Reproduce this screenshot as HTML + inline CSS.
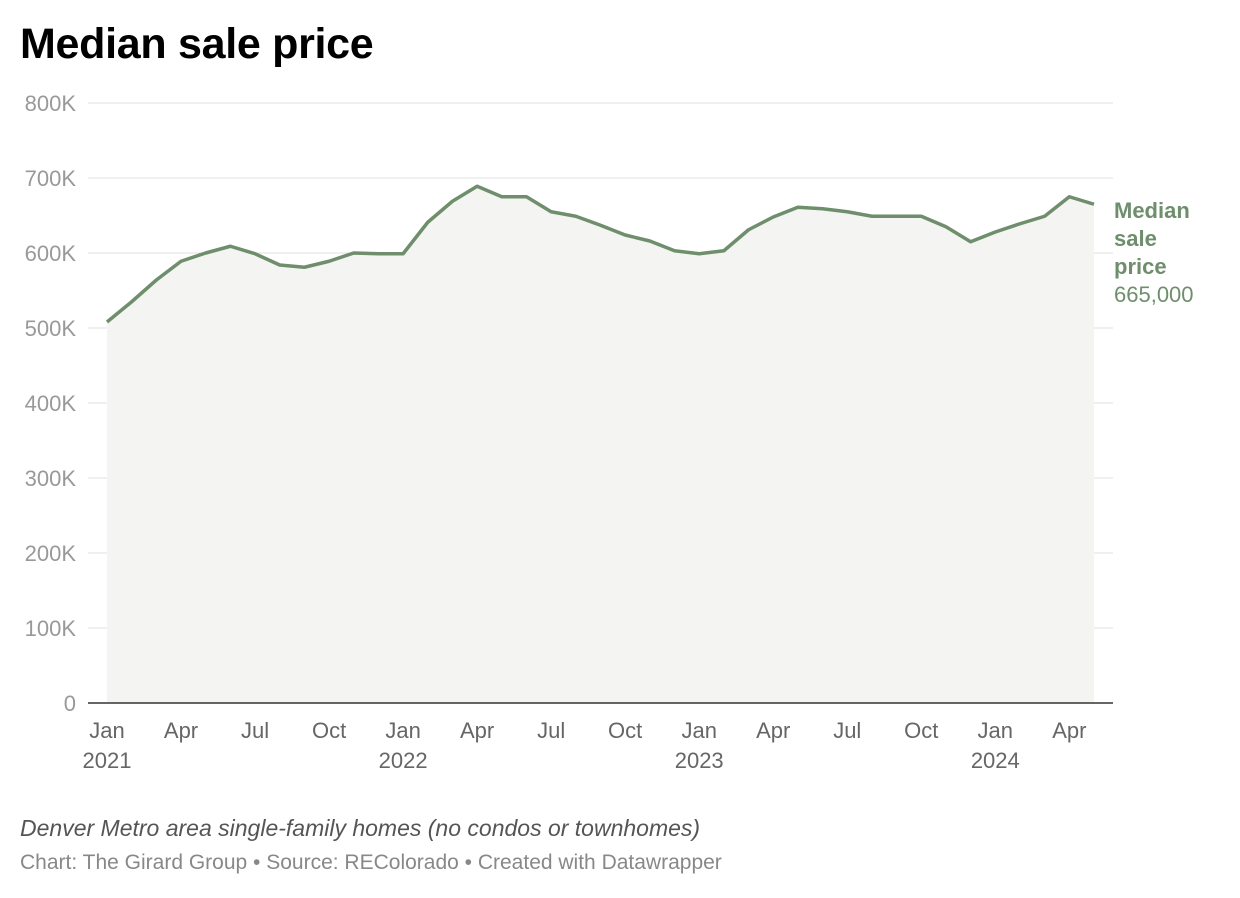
<!DOCTYPE html>
<html><head><meta charset="utf-8">
<style>
body{margin:0;background:#fff;width:1240px;height:898px;overflow:hidden;font-family:"Liberation Sans",sans-serif;}
h1{position:absolute;left:20px;top:20px;margin:0;font-size:43px;font-weight:bold;color:#000;letter-spacing:-0.3px}
.note{position:absolute;left:20px;top:815px;font-size:23px;font-style:italic;color:#555}
.src{position:absolute;left:20px;top:851px;font-size:21px;color:#888}
</style></head><body>
<h1>Median sale price</h1>
<svg id="chart" width="1240" height="898" style="position:absolute;left:0;top:0"></svg>
<div class="note">Denver Metro area single-family homes (no condos or townhomes)</div>
<div class="src">Chart: The Girard Group • Source: REColorado • Created with Datawrapper</div>
<script>
const values=[508,535,564,589,600,609,599,584,581,589,600,599,599,641,669,689,675,675,655,649,637,624,616,603,599,603,631,648,661,659,655,649,649,649,635,615,628,639,649,675,665];
const yTicks=[0,100,200,300,400,500,600,700,800];
const yTickLabels=["0","100K","200K","300K","400K","500K","600K","700K","800K"];
const xTickIdx=[0,3,6,9,12,15,18,21,24,27,30,33,36,39];
const xTickLabels=["Jan","Apr","Jul","Oct","Jan","Apr","Jul","Oct","Jan","Apr","Jul","Oct","Jan","Apr"];
const yearIdx=[0,12,24,36];
const yearLabels=["2021","2022","2023","2024"];
const NS="http://www.w3.org/2000/svg";
const svg=document.getElementById('chart');
const x=i=>107+i*(1094-107)/40;
const y=v=>703-v*0.75;
function el(t,a,txt){const e=document.createElementNS(NS,t);for(const k in a)e.setAttribute(k,a[k]);if(txt!==undefined)e.textContent=txt;svg.appendChild(e);return e;}
yTicks.forEach((v,i)=>{
 if(v>0){const g=el('line',{x1:88,x2:1113,y1:y(v),y2:y(v),stroke:'#e2e2e2','stroke-width':1});
 
 }
 const t=el('text',{x:76,y:y(v)+8,'text-anchor':'end','font-size':22,fill:'#999','font-family':'Liberation Sans'},yTickLabels[i]);
 
 
});
let d='M'+x(0)+','+y(0);
values.forEach((v,i)=>d+=' L'+x(i)+','+y(v));
d+=' L'+x(values.length-1)+','+y(0)+'Z';
const area=el('path',{d:d,fill:'#f4f4f2'});


const line=el('path',{d:values.map((v,i)=>(i?'L':'M')+x(i)+','+y(v)).join(' '),fill:'none',stroke:'#6e8e6c','stroke-width':3.5,'stroke-linejoin':'round'});


const ax=el('line',{x1:88,x2:1113,y1:y(0),y2:y(0),stroke:'#333','stroke-width':1.5});


xTickIdx.forEach((k,i)=>{
 const t=el('text',{x:x(k),y:738,'text-anchor':'middle','font-size':22,fill:'#666','font-family':'Liberation Sans'},xTickLabels[i]);
 
 
});
yearIdx.forEach((k,i)=>{
 const t=el('text',{x:x(k),y:768,'text-anchor':'middle','font-size':22,fill:'#666','font-family':'Liberation Sans'},yearLabels[i]);
 
 
});
const lab=["Median","sale","price"];
lab.forEach((s,i)=>{
 const t=el('text',{x:1114,y:218+i*28,'font-size':22,'font-weight':'bold',fill:'#6e8e6c','font-family':'Liberation Sans'},s);
 
 
});
const lv=el('text',{x:1114,y:302,'font-size':22,fill:'#6e8e6c','font-family':'Liberation Sans'},(values[values.length-1]*1000).toLocaleString('en-US'));


</script>
</body></html>
